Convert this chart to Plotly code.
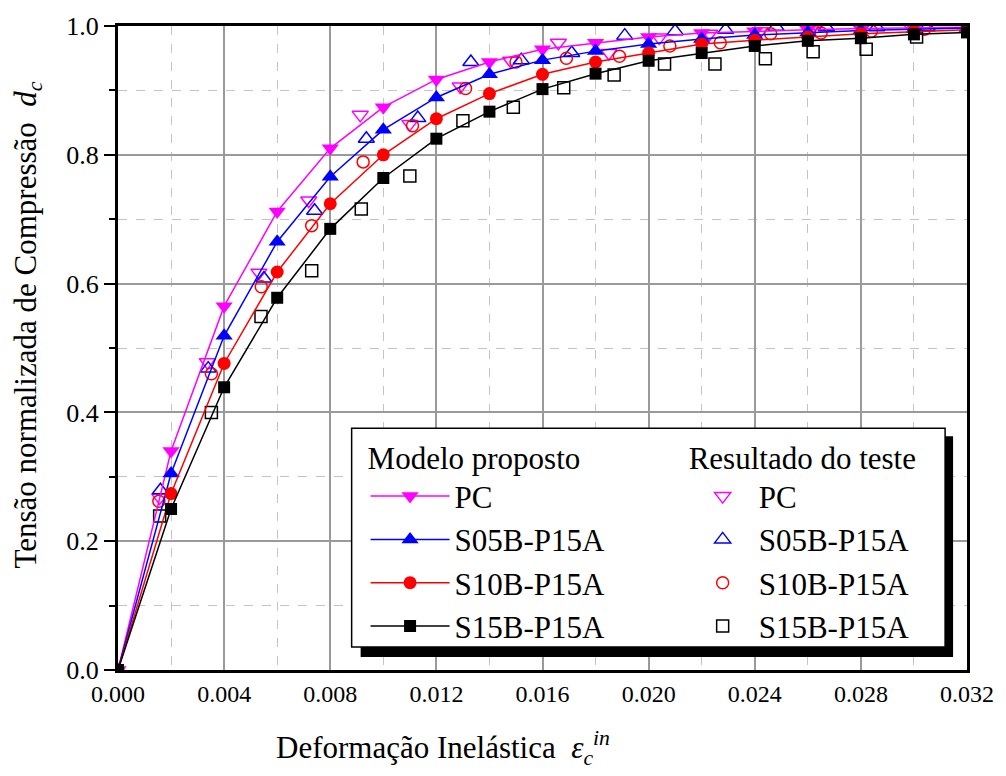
import plotly.graph_objects as go

# ---------------- data ----------------
x_model = [0.000, 0.002, 0.004, 0.006, 0.008, 0.010, 0.012, 0.014, 0.016,
           0.018, 0.020, 0.022, 0.024, 0.026, 0.028, 0.030, 0.032]
pc_model = [0.0, 0.340, 0.565, 0.712, 0.810, 0.874, 0.917, 0.944, 0.964,
            0.974, 0.983, 0.989, 0.992, 0.994, 0.996, 0.997, 0.998]
s05_model = [0.0, 0.305, 0.519, 0.665, 0.766, 0.839, 0.889, 0.925, 0.947,
             0.961, 0.972, 0.980, 0.986, 0.990, 0.993, 0.995, 0.997]
s10_model = [0.0, 0.274, 0.476, 0.618, 0.724, 0.800, 0.856, 0.895, 0.925,
             0.944, 0.958, 0.972, 0.978, 0.983, 0.988, 0.991, 0.994]
s15_model = [0.0, 0.250, 0.439, 0.578, 0.685, 0.764, 0.825, 0.867, 0.902,
             0.926, 0.946, 0.958, 0.969, 0.977, 0.981, 0.987, 0.990]

pc_test_x = [0.00157, 0.00337, 0.00531, 0.00719, 0.00913, 0.0110, 0.0129, 0.0148,
             0.0166, 0.0185, 0.0204, 0.0223, 0.0242, 0.0261, 0.0280, 0.0299]
pc_test_y = [0.268, 0.478, 0.617, 0.729, 0.862, 0.848, 0.906, 0.946,
             0.974, 0.958, 0.982, 0.988, 0.992, 0.995, 0.997, 0.998]
s05_test_x = [0.00160, 0.0034, 0.0055, 0.00741, 0.00936, 0.0113, 0.0133, 0.0152,
              0.0171, 0.0191, 0.0210, 0.0229, 0.0248, 0.0267, 0.0286, 0.0305]
s05_test_y = [0.279, 0.468, 0.608, 0.713, 0.825, 0.857, 0.944, 0.947,
              0.958, 0.985, 0.992, 0.994, 0.999, 0.998, 0.998, 0.998]
s10_test_x = [0.00154, 0.00352, 0.0054, 0.0073, 0.00924, 0.0111, 0.0131, 0.0150,
              0.0169, 0.0189, 0.0208, 0.0227, 0.0246, 0.0265, 0.0284, 0.0304]
s10_test_y = [0.262, 0.460, 0.595, 0.690, 0.789, 0.845, 0.903, 0.944,
              0.950, 0.953, 0.969, 0.974, 0.988, 0.989, 0.992, 0.995]
s15_test_x = [0.00157, 0.00352, 0.00539, 0.0073, 0.00917, 0.0110, 0.0130, 0.0149,
              0.0168, 0.0187, 0.0206, 0.0225, 0.0244, 0.0262, 0.0282, 0.0301]
s15_test_y = [0.239, 0.400, 0.549, 0.620, 0.716, 0.767, 0.853, 0.874,
              0.904, 0.924, 0.941, 0.941, 0.949, 0.960, 0.964, 0.983]

names = ["PC", "S05B-P15A", "S10B-P15A", "S15B-P15A"]
colors = ["#FF00FF", "#0000FF", "#FF0000", "#000000"]
model_vals = [pc_model, s05_model, s10_model, s15_model]
test_xs = [pc_test_x, s05_test_x, s10_test_x, s15_test_x]
test_ys = [pc_test_y, s05_test_y, s10_test_y, s15_test_y]
model_symbols = ["triangle-down", "triangle-up", "circle", "square"]
test_symbols = ["triangle-down-open", "triangle-up-open", "circle-open", "square-open"]
model_sizes = [15, 15, 13, 12]
test_sizes = [14, 14, 12, 12]

FONT = "Liberation Serif"

fig = go.Figure()

for i in range(4):
    fig.add_trace(go.Scatter(
        x=test_xs[i], y=test_ys[i], mode="markers", name=names[i],
        marker=dict(symbol=test_symbols[i], size=test_sizes[i], color=colors[i],
                    line=dict(width=1.5, color=colors[i])),
        legend="legend2", legendgroup="t%d" % i,
    ))

for i in range(4):
    fig.add_trace(go.Scatter(
        x=x_model, y=model_vals[i], mode="lines+markers", name=names[i],
        line=dict(color=colors[i], width=1.5),
        marker=dict(symbol=model_symbols[i], size=model_sizes[i], color=colors[i]),
        legend="legend", legendgroup="m%d" % i,
    ))

# legend frame with shadow (paper coordinates)
fig.add_shape(type="rect", xref="paper", yref="paper",
              x0=0.2858, x1=0.9836, y0=0.0201, y1=0.3628,
              fillcolor="black", line=dict(width=0), layer="above")
fig.add_shape(type="rect", xref="paper", yref="paper",
              x0=0.2752, x1=0.9742, y0=0.0357, y1=0.3752,
              fillcolor="white", line=dict(width=1.5, color="black"), layer="above")

fig.add_annotation(text="Deformação Inelástica  <i>ε</i><sub><i>c</i></sub><sup><i>in</i></sup>",
                   xref="paper", yref="paper", x=0.383, y=-0.121,
                   xanchor="center", yanchor="middle", showarrow=False,
                   font=dict(family=FONT, size=31, color="black"))
fig.add_annotation(text="Tensão normalizada de Compressão  <i>d</i><sub><i>c</i></sub>",
                   xref="paper", yref="paper", x=-0.080, y=0.535,
                   xanchor="right", yanchor="middle", textangle=-90, showarrow=False,
                   font=dict(family=FONT, size=31, color="black"))

fig.update_layout(
    width=1006, height=776,
    margin=dict(l=118, r=34, t=25, b=106),
    paper_bgcolor="white", plot_bgcolor="white",
    font=dict(family=FONT, size=24, color="black"),
    legend=dict(x=0.2916, y=0.374, xanchor="left", yanchor="top",
                bgcolor="rgba(0,0,0,0)", borderwidth=0, itemwidth=79,
                title=dict(text="Modelo proposto", font=dict(family=FONT, size=31)),
                font=dict(family=FONT, size=31), tracegroupgap=0),
    legend2=dict(x=0.6698, y=0.374, xanchor="left", yanchor="top",
                 bgcolor="rgba(0,0,0,0)", borderwidth=0, itemwidth=62,
                 title=dict(text="Resultado do teste", font=dict(family=FONT, size=31)),
                 font=dict(family=FONT, size=31), tracegroupgap=0),
    showlegend=True,
)

fig.update_xaxes(
    range=[0, 0.032], dtick=0.004, tick0=0, tickformat=".3f",
    showline=True, linewidth=3, linecolor="black", mirror=True,
    showgrid=True, gridcolor="#9a9a9a", gridwidth=1.5,
    ticks="", zeroline=False,
    tickfont=dict(family=FONT, size=24),
    minor=dict(dtick=0.002, showgrid=True, gridcolor="#c4c4c4", griddash="dash", gridwidth=1),
)
fig.update_yaxes(
    range=[0, 1.0], dtick=0.2, tick0=0, tickformat=".1f",
    showline=True, linewidth=3, linecolor="black", mirror=True,
    showgrid=True, gridcolor="#9a9a9a", gridwidth=1.5,
    ticks="outside", ticklen=11, tickwidth=2, tickcolor="black", zeroline=False,
    tickfont=dict(family=FONT, size=26),
    minor=dict(dtick=0.1, showgrid=True, gridcolor="#c4c4c4", griddash="dash", gridwidth=1,
               ticks="outside", ticklen=6, tickwidth=2, tickcolor="black"),
)

fig.write_html("out.html")
